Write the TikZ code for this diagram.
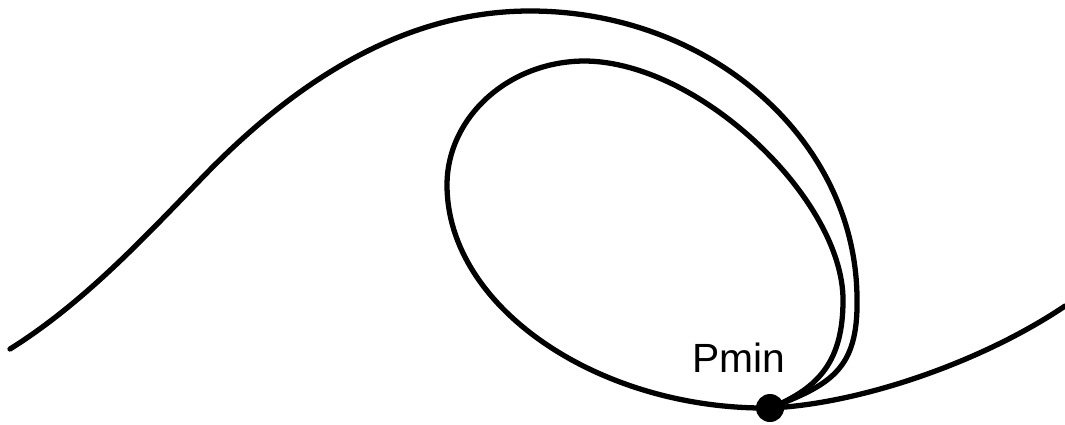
\documentclass[tikz,border=0pt]{standalone}
\usepackage{fontspec}
\setmainfont{Liberation Sans}
\usetikzlibrary{positioning}

\begin{document}
\begin{tikzpicture}[
    x=0.01cm, y=-0.01cm,
    curve/.style={line width=1.5pt, line cap=round, line join=round, black},
    dot/.style={circle, fill=black, inner sep=0pt, minimum size=0.28cm},
    lab/.style={font=\fontsize{11.6}{13}\selectfont, inner sep=0pt}
  ]
    \useasboundingbox (0,0) rectangle (1065,424);
    \coordinate (pmin) at (770,408);
    \coordinate (wl) at (10,349);
    \coordinate (wr) at (1065,306);
    % outer wave, down into the minimum
    \draw[curve] (wl) .. controls (82,304) and (141,241) .. (200,180)
      .. controls (290,86) and (400,11) .. (530,11)
      .. controls (710,11) and (857,140) .. (857,300)
      .. controls (858,370) and (830,385) .. (pmin);
    % inner loop through the minimum
    \draw[curve] (pmin) .. controls (820,388) and (843,360) .. (843,300)
      .. controls (843,200) and (700,62) .. (585,61)
      .. controls (509,61) and (447,117) .. (447,185)
      .. controls (447,308) and (600,410) .. (pmin);
    % branch to the right
    \draw[curve] (pmin) .. controls (860,404) and (982,362) .. (wr);
    \node[dot] (pmindot) at (pmin) {};
    \node[lab, anchor=base] (pminlab) at (739,372) {Pmin};
  \end{tikzpicture}
\end{document}
